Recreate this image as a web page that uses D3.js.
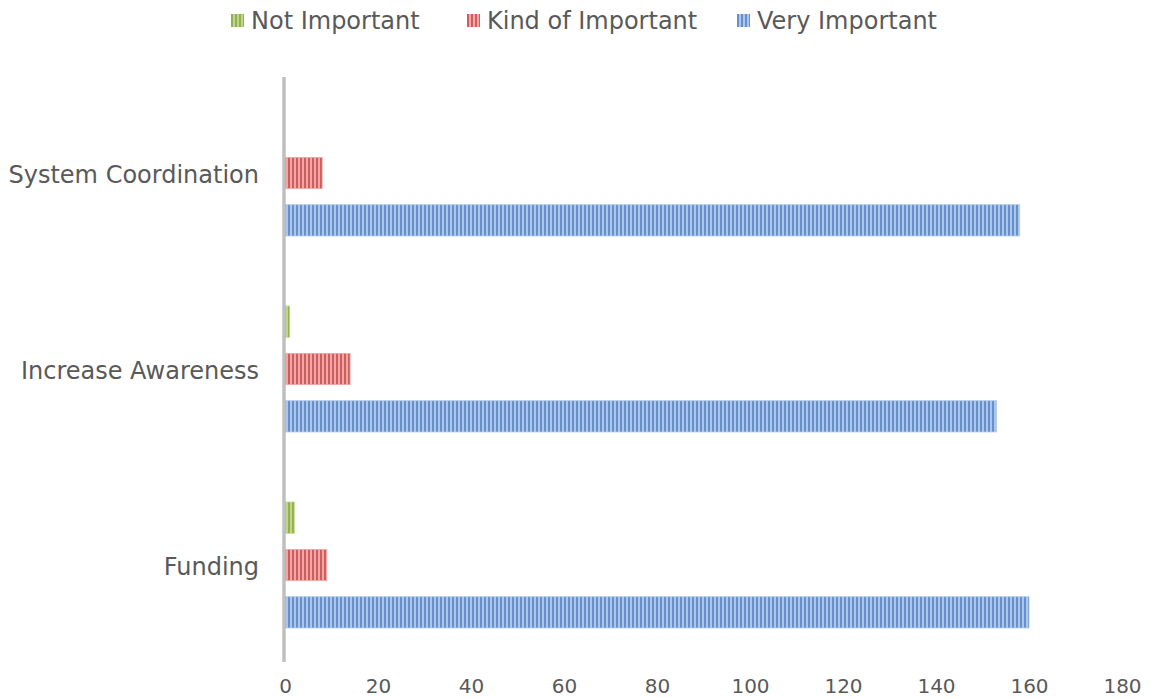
<!DOCTYPE html>
<html><head><meta charset="utf-8">
<script src="https://cdn.jsdelivr.net/npm/d3@7/dist/d3.min.js"></script>
<style>html,body{margin:0;padding:0;background:#fff;}svg{display:block;}</style>
</head><body>
<script>
const categories = ["System Coordination", "Increase Awareness", "Funding"];
const seriesNames = ["Not Important", "Kind of Important", "Very Important"];
const notImportant = [0, 1, 2];
const kindOfImportant = [8, 14, 9];
const veryImportant = [158, 153, 160];
const xTicks = [0, 20, 40, 60, 80, 100, 120, 140, 160, 180];

const seriesValues = [notImportant, kindOfImportant, veryImportant];
const colors = [
  {light: "#bfd68a", dark: "#93b14f", id: "pg"},
  {light: "#efa8a7", dark: "#cf5d5c", id: "pr"},
  {light: "#adc7ec", dark: "#6690cc", id: "pb"}
];

const W = 1151, H = 698;
const FONT = "'DejaVu Sans', sans-serif";
const svg = d3.select("body").append("svg").attr("width", W).attr("height", H);

const defs = svg.append("defs");
colors.forEach(c => {
  const p = defs.append("pattern").attr("id", c.id).attr("patternUnits", "userSpaceOnUse")
    .attr("width", 4).attr("height", 4);
  p.append("rect").attr("width", 4).attr("height", 4).attr("fill", c.light);
  p.append("rect").attr("width", 2).attr("height", 4).attr("fill", c.dark);
});

const x = d3.scaleLinear().domain([0, 180]).range([285, 1122]);
const y = d3.scaleBand().domain(categories).range([75, 663]).padding(0);
const yInner = d3.scaleBand().domain(seriesNames).range([0, y.bandwidth()])
  .paddingInner(0.34).paddingOuter(0.74);

// bars
const g = svg.append("g");
categories.forEach((cat, ci) => {
  seriesNames.forEach((s, si) => {
    const v = seriesValues[si][ci];
    if (v <= 0) return;
    g.append("rect")
      .attr("x", x(0))
      .attr("y", y(cat) + yInner(s))
      .attr("width", x(v) - x(0))
      .attr("height", yInner.bandwidth())
      .attr("fill", `url(#${colors[si].id})`)
      .attr("stroke", colors[si].light)
      .attr("stroke-width", 0.8);
  });
});

// vertical axis line
svg.append("line").attr("x1", x(0) - 1).attr("x2", x(0) - 1)
  .attr("y1", 77).attr("y2", 662).attr("stroke", "#bfbfbf").attr("stroke-width", 3.5);

// category labels
const yAxis = svg.append("g").attr("transform", `translate(${x(0) - 26},0)`)
  .call(d3.axisLeft(y).tickSize(0).tickPadding(0));
yAxis.select(".domain").remove();
yAxis.selectAll("text").attr("font-family", FONT).attr("font-size", 24)
  .attr("fill", "#595959").attr("dy", "0.4em");

// x tick labels
const xAxis = svg.append("g").attr("transform", `translate(0,672)`)
  .call(d3.axisBottom(x).tickValues(xTicks).tickSize(0).tickPadding(0).tickFormat(d3.format("d")));
xAxis.select(".domain").remove();
xAxis.selectAll("text").attr("font-family", FONT).attr("font-size", 20)
  .attr("fill", "#595959").attr("dy", "1.05em");

// legend
const legendX = [231, 467, 737];
const leg = svg.append("g");
seriesNames.forEach((s, i) => {
  const lg = leg.append("g").attr("transform", `translate(${legendX[i]},0)`);
  lg.append("rect").attr("x", 0).attr("y", 14).attr("width", 13).attr("height", 13)
    .attr("fill", `url(#${colors[i].id})`);
  lg.append("text").attr("x", 20).attr("y", 21).attr("dy", "0.35em")
    .attr("font-family", FONT).attr("font-size", 24).attr("fill", "#595959").text(s);
});
</script>
</body></html>
